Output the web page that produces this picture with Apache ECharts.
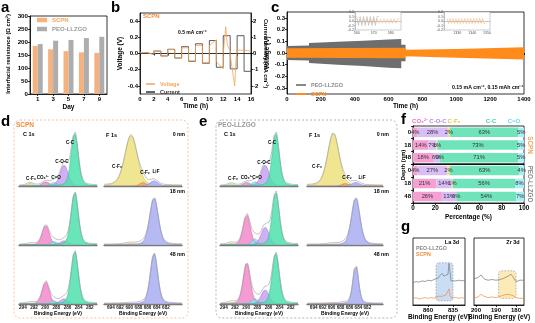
<!DOCTYPE html>
<html><head><meta charset="utf-8">
<script src="https://cdn.jsdelivr.net/npm/echarts@6/dist/echarts.min.js"></script>
<style>html,body{margin:0;padding:0;background:#fff}#c{width:535px;height:323px}</style>
</head><body><div id="c"></div>
<script>
// ================= DATA =================
const aDays = ['1','3','5','7','9'];
const aSCPN = [185,172,165,160,158];
const aPEO  = [192,205,208,215,220];
const aYTicks = [0,50,100,150,200,250,300];
const bHours = [0,1,2,3,4,5,6,7,8,9,10,11,12,13,14,15];
const bCurrent = [0.05,-0.05,0.15,-0.15,0.26,-0.28,0.42,-0.48,0.6,-0.6,0.8,-0.85,1.1,-0.95,1.1,-1.1];
const bVoltT = [0,1,1,2,2,3,3,4,4,5,5,6,6,7,7,8,8,9,9,10,10,11,11,12,12,12.35,12.6,13,13,13.65,13.85,14,14,15,15,16];
const bVoltV = [0.01,0.01,-0.01,-0.01,0.03,0.03,-0.03,-0.03,0.05,0.05,-0.05,-0.05,0.07,0.07,-0.09,-0.09,0.1,0.1,-0.11,-0.11,0.1,0.17,-0.1,-0.19,0.0,0.33,0.1,0.03,-0.02,-0.4,-0.05,0.0,0.04,0.04,0.03,0.03];
const bVTicks = [-0.4,-0.2,0,0.2,0.4];
const bITicks = [-2,-1,0,1,2];
const cPeoT  = [0,130,130,300,450,600,675,675,700];
const cPeoUp = [0.06,0.065,0.085,0.095,0.105,0.115,0.12,0.07,0.07];
const cPeoLo = [-0.06,-0.065,-0.085,-0.1,-0.11,-0.125,-0.13,-0.07,-0.07];
const cScpnT  = [0,700,700,1000,1400];
const cScpnUp = [0.04,0.045,0.028,0.035,0.05];
const cScpnLo = [-0.04,-0.045,-0.028,-0.04,-0.056];
const cYTicks = [-0.3,-0.2,-0.1,0,0.1,0.2,0.3];
const in1Start = 560, in1Gray = [0.1,-0.1,0.1,-0.1,0.1,-0.1,0.1,-0.1,0.1,-0.1,0.1,-0.1,0.1];
const in1Orange = [0.05,-0.05,0.05,-0.05,0.05,-0.05,0.05,-0.05,0.05,-0.05,0.05,-0.05,0.05,-0.05,0.05,-0.05,0.05,-0.05,0.05,-0.05,0.05,-0.05,0.05,-0.05,0.05];
const in1Ticks = [560,570,580];
const in2Start = 1323, in2Orange = [0.055,-0.055,0.055,-0.055,0.055,-0.055,0.055,-0.055,0.055,-0.055,0.055,-0.055,0.055,-0.055,0.055,-0.055,0.055,-0.055,0.055,-0.055,0.055,-0.055,0.055,-0.055,0.055,-0.055];
const in2Ticks = [1330,1340,1350];
const c1sLabels = ['C-F₃','CO₃²⁻','C=O','C-O-C','C-C'];
const c1sCenters = [292.7,289.9,288.4,286.6,284.7];
const c1sFwhm = [1.3,1.5,1.3,1.7,1.5];
const scpnC1sH = [[0.05,0.08,0.07,0.40,1.0],[0.02,0.37,0.07,0.08,1.0],[0.02,0.42,0.06,0.10,1.0]];
const peoC1sH  = [[0.04,0.07,0.08,0.40,1.0],[0.03,0.57,0.12,0.34,1.0],[0.03,0.77,0.10,0.27,0.96]];
const f1sLabels = ['C-F₃','C-F₂','LiF'];
const f1sCenters = [689.6,687.0,684.6];
const scpnF1sH = [[0.96,0.07,0.10],[0.03,0.03,0.9],[0.01,0.02,0.96]];
const scpnF1sW = [[3.2,1.5,2.0],[3.2,1.5,2.2],[3.2,1.5,1.9]];
const peoF1sH  = [[1.0,0.05,0.07],[0.02,0.03,0.9],[0.01,0.02,0.74]];
const peoF1sW  = [[3.0,1.5,2.0],[3.0,1.5,2.2],[3.0,1.5,1.5]];
const c1sTicks = [282,284,286,288,290,292,294];
const f1sTicks = [682,684,686,688,690,692,694];
const depthNames = ['0 nm','18 nm','48 nm'];
const fComps = ['CO₃²⁻','C-O-C','C-F₃','C-C','C=O'];
const fDepths = ['0','18','48'];
const fSCPN = [[4,28,2,63,5],[14,7,1,73,5],[18,6,0,71,5]];
const fPEO  = [[4,27,2,63,4],[21,14,1,56,8],[26,13,0,54,7]];
const gLaE    = [875,872,869,866,863,860,857,854,852,850,848,846,844,842,840,839,838,837,835,832,829,826,823];
const gLaPeo  = [0.33,0.35,0.34,0.36,0.35,0.37,0.36,0.38,0.37,0.40,0.44,0.47,0.43,0.41,0.46,0.62,0.50,0.36,0.38,0.36,0.37,0.36,0.37];
const gLaScpn = [0.10,0.11,0.09,0.10,0.11,0.10,0.11,0.10,0.12,0.13,0.14,0.13,0.14,0.15,0.16,0.24,0.14,0.11,0.10,0.11,0.10,0.11,0.10];
const gZrE    = [201,199,197.4,196,194,192,190,188,186,184,182.6,181.5,180,178,176];
const gZrPeo  = [0.39,0.41,0.45,0.39,0.37,0.38,0.37,0.38,0.40,0.43,0.46,0.42,0.35,0.37,0.37];
const gZrScpn = [0.10,0.12,0.16,0.13,0.11,0.12,0.11,0.13,0.15,0.16,0.15,0.14,0.11,0.10,0.10];
const gLaBox = [852,0.06,835,0.63];
const gZrBox = [188.7,0.1,180,0.51];
const gLaTicks = [860,835];
const gZrTicks = [200,190,180];

// ================= HELPERS =================
const F = "'Liberation Sans', Arial, sans-serif";
function isObj(o){return o && typeof o==='object' && !Array.isArray(o);}
function merge(a,b){const r=Object.assign({},a);for(const k in b){r[k]=(isObj(a[k])&&isObj(b[k]))?merge(a[k],b[k]):b[k];}return r;}
function ax(o){return merge({axisLine:{show:true,lineStyle:{color:'#000',width:0.8}},axisTick:{show:true,length:2,lineStyle:{color:'#000',width:0.8}},axisLabel:{fontSize:6,fontWeight:'bold',color:'#000',margin:2,fontFamily:F,hideOverlap:false},splitLine:{show:false},nameTextStyle:{fontSize:6.5,fontWeight:'bold',color:'#000',fontFamily:F}},o||{});}
const grids=[],xAxes=[],yAxes=[],series=[],graphics=[],legends=[];
function addGrid(g,x,y){grids.push(g);const gi=grids.length-1;xAxes.push(ax(Object.assign({gridIndex:gi},x)));yAxes.push(ax(Object.assign({gridIndex:gi},y)));return {g:gi,x:xAxes.length-1,y:yAxes.length-1};}
function T(x,y,text,o){o=o||{};return {type:'text',x:x,y:y,rotation:o.rot||0,silent:true,z:100,style:{text:text,fill:o.color||'#000',font:(o.weight||'bold')+' '+(o.size||6)+'px '+F,textAlign:o.align||'left',textVerticalAlign:o.va||'middle'}};}
const frame={show:true,borderColor:'#000',borderWidth:0.8,backgroundColor:'transparent'};
const plain=v=>String(v);

// (a)
const gA=addGrid(Object.assign({left:30,top:16,width:77,height:78},frame),
  {type:'category',data:aDays,axisTick:{alignWithLabel:true},name:'Day',nameLocation:'middle',nameGap:10},
  {type:'value',min:0,max:300,axisLabel:{customValues:aYTicks,formatter:plain,fontSize:6.2},axisTick:{customValues:aYTicks}});
series.push({type:'bar',name:'SCPN',xAxisIndex:gA.x,yAxisIndex:gA.y,data:aSCPN,barWidth:5,barGap:'0%',itemStyle:{color:'#F6B27E'}});
series.push({type:'bar',name:'PEO-LLZGO',xAxisIndex:gA.x,yAxisIndex:gA.y,data:aPEO,barWidth:5,barGap:'0%',itemStyle:{color:'#ADADAD'}});
legends.push({left:32,top:12,orient:'vertical',icon:'rect',itemWidth:10,itemHeight:4.5,itemGap:3,textStyle:{fontSize:6,fontWeight:'bold',fontFamily:F},
  data:[{name:'SCPN',textStyle:{color:'#F4A460'}},{name:'PEO-LLZGO',textStyle:{color:'#999'}}]});
graphics.push(T(8,54,'Interfacial resistance (Ω cm²)',{size:5.8,align:'center',rot:Math.PI/2}));

// (b)
const gB=addGrid(Object.assign({left:140,top:13,width:111,height:81},frame),
  {type:'value',min:0,max:16,interval:2,name:'Time (h)',nameLocation:'middle',nameGap:9},
  {type:'value',min:-0.5,max:0.5,axisLabel:{customValues:bVTicks,formatter:v=>v.toFixed(1)},axisTick:{customValues:bVTicks},name:'Voltage (V)',nameLocation:'middle',nameGap:13});
yAxes.push(ax({gridIndex:gB.g,type:'value',position:'right',min:-2.5,max:2.5,axisLabel:{customValues:bITicks},axisTick:{customValues:bITicks},name:'Current density (mA cm⁻²)',nameLocation:'middle',nameGap:7,nameRotate:-90,nameTextStyle:{fontSize:5.6}}));
const bYR=yAxes.length-1;
const curPts=[[0,0]];bHours.forEach((h,i)=>{curPts.push([h,bCurrent[i]]);curPts.push([h+1,bCurrent[i]]);});
series.push({type:'line',name:'Current',xAxisIndex:gB.x,yAxisIndex:bYR,data:curPts,showSymbol:false,symbol:'none',lineStyle:{color:'#333',width:0.8},itemStyle:{color:'#333'},z:2});
series.push({type:'line',name:'Voltage',xAxisIndex:gB.x,yAxisIndex:gB.y,data:bVoltT.map((t,i)=>[t,bVoltV[i]]),showSymbol:false,symbol:'none',lineStyle:{color:'#F5A35A',width:0.8},itemStyle:{color:'#F5A35A'},z:3});
legends.push({left:141,top:76,orient:'vertical',icon:'rect',itemWidth:9,itemHeight:1.5,itemGap:2,textStyle:{fontSize:5.5,fontWeight:'bold',fontFamily:F},
  data:[{name:'Voltage',textStyle:{color:'#F5A35A'}},{name:'Current',textStyle:{color:'#333'}}]});
graphics.push(T(143,16,'SCPN',{color:'#F28C3A',size:6}));
graphics.push(T(178,33,'0.5 mA cm⁻²',{size:5}));

// (c)
const gC=addGrid(Object.assign({left:287,top:12,width:237,height:82},frame),
  {type:'value',min:0,max:1400,interval:200,axisLabel:{formatter:plain},name:'Time (h)',nameLocation:'middle',nameGap:9},
  {type:'value',min:-0.35,max:0.35,axisLabel:{customValues:cYTicks,formatter:v=>v.toFixed(1)},axisTick:{customValues:cYTicks},name:'Voltage (V)',nameLocation:'middle',nameGap:13});
function band(name,Tt,U,L,color,z){return {type:'custom',name:name,xAxisIndex:gC.x,yAxisIndex:gC.y,data:[[Tt[0],U[0]]],z:z,itemStyle:{color:color},
  renderItem:(p,api)=>{const pts=[];for(let i=0;i<Tt.length;i++)pts.push(api.coord([Tt[i],U[i]]));for(let i=Tt.length-1;i>=0;i--)pts.push(api.coord([Tt[i],L[i]]));return {type:'polygon',shape:{points:pts},style:{fill:color}};}};}
series.push(band('PEO-LLZGO ',cPeoT,cPeoUp,cPeoLo,'#6E6E6E',2));
series.push(band('SCPN ',cScpnT,cScpnUp,cScpnLo,'#FF8C1A',3));
legends.push({left:291,top:77,orient:'vertical',icon:'rect',itemWidth:10,itemHeight:2,itemGap:3,textStyle:{fontSize:5.5,fontWeight:'bold',fontFamily:F},
  data:[{name:'PEO-LLZGO ',itemStyle:{color:'#888'},textStyle:{color:'#888'}},{name:'SCPN ',itemStyle:{color:'#FF8C1A'},textStyle:{color:'#FF8C1A'}}]});
graphics.push(T(452,88,'0.15 mA cm⁻², 0.15 mAh cm⁻²',{size:5.2}));
function inset(left,xmin,xmax,ticks){
  const smallAx={axisLine:{lineStyle:{color:'#999',width:0.5}},axisTick:{length:1,lineStyle:{color:'#999',width:0.5}},axisLabel:{fontSize:3.6,fontWeight:'normal',color:'#555',margin:1},z:11};
  return addGrid({left:left,top:12,width:46,height:18,show:true,backgroundColor:'#fff',borderColor:'#999',borderWidth:0.5,z:10},
    merge(smallAx,{type:'value',min:xmin,max:xmax,axisLabel:{customValues:ticks,formatter:plain},axisTick:{customValues:ticks}}),
    merge(smallAx,{type:'value',min:-0.2,max:0.2,interval:0.1,axisLabel:{formatter:v=>v.toFixed(1)}}));
}
function sq(start,vals){const pts=[];vals.forEach((v,i)=>{pts.push([start+i,v]);pts.push([start+i+1,v]);});return pts;}
const gI1=inset(355,559,586,in1Ticks);
series.push({type:'line',xAxisIndex:gI1.x,yAxisIndex:gI1.y,data:sq(in1Start,in1Orange),showSymbol:false,symbol:'none',lineStyle:{color:'#F7B27A',width:0.5},z:12});
series.push({type:'line',xAxisIndex:gI1.x,yAxisIndex:gI1.y,data:sq(in1Start,in1Gray),showSymbol:false,symbol:'none',lineStyle:{color:'#AAAAAA',width:0.5},z:12});
const gI2=inset(444,1321,1352,in2Ticks);
series.push({type:'line',xAxisIndex:gI2.x,yAxisIndex:gI2.y,data:sq(in2Start,in2Orange),showSymbol:false,symbol:'none',lineStyle:{color:'#F7A860',width:0.5},z:12});

// (d)/(e)
const cC=['#EBDD7E','#F28ACB','#86E6F2','#C8A2F2','#4FE0AE'];
const cCe=['#C9B94E','#D4609F','#4CBFD0','#9E76D0','#2DB886'];
const fC=['#EDE07E','#F5A35E','#A8ADF2'];
const fCe=['#C9BA4A','#D07A35','#7C82D0'];
const rowTops=[128,187,246], rowH=58;
function pv(x,c,h,w){const d=(x-c)/w;return h*(0.75*Math.exp(-4*Math.LN2*d*d)+0.25/(1+4*d*d));}
function xpsCol(left,width,xmin,xmax,ticks,centers,heights,widths,colors,edges){
  rowTops.forEach((top,r)=>{
    const last=r===2;
    const G=addGrid({left:left,top:top,width:width,height:rowH},
      {type:'value',inverse:true,min:xmin,max:xmax,axisLine:{lineStyle:{color:'#777',width:1.3}},
        axisTick:{show:last,customValues:ticks,length:1.5,lineStyle:{color:'#777'}},
        axisLabel:{show:last,customValues:ticks,fontSize:4.6,margin:1.5,color:'#222'},
        name:last?'Binding Energy (eV)':'',nameLocation:'middle',nameGap:7,nameTextStyle:{fontSize:5}},
      {type:'value',show:false,min:0,max:1.1});
    const n=Math.round((xmax-xmin)/0.1);const env=[];
    for(let k=0;k<=n;k++)env.push([xmin+k*0.1,0.015]);
    centers.forEach((c,j)=>{
      const h=heights[r][j], w=Array.isArray(widths[0])?widths[r][j]:widths[j];
      const d=[];for(let k=0;k<=n;k++){const x=xmin+k*0.1;const y=pv(x,c,h,w);d.push([x,y]);env[k][1]+=y;}
      series.push({type:'line',xAxisIndex:G.x,yAxisIndex:G.y,data:d,showSymbol:false,symbol:'none',silent:true,
        lineStyle:{width:0.5,color:edges[j]},areaStyle:{color:colors[j],opacity:0.85},z:2+(j===centers.length-1?1:0)});
    });
    series.push({type:'line',xAxisIndex:G.x,yAxisIndex:G.y,data:env,showSymbol:false,symbol:'none',silent:true,lineStyle:{width:0.6,color:'#9A9A9A'},z:4});
  });
}
xpsCol(19,78,280.7,294.7,c1sTicks,c1sCenters,scpnC1sH,c1sFwhm,cC,cCe);
xpsCol(104,78,678.5,695.5,f1sTicks,f1sCenters,scpnF1sH,scpnF1sW,fC,fCe);
xpsCol(220,78,280.7,294.7,c1sTicks,c1sCenters,peoC1sH,c1sFwhm,cC,cCe);
xpsCol(307,76,678.5,695.5,f1sTicks,f1sCenters,peoF1sH,peoF1sW,fC,fCe);
graphics.push({type:'rect',silent:true,shape:{x:14,y:120,width:174,height:198,r:6},style:{fill:'none',stroke:'#F4B183',lineWidth:0.8,lineDash:[2,2]}});
graphics.push({type:'rect',silent:true,shape:{x:216,y:120,width:181,height:198,r:6},style:{fill:'none',stroke:'#A0A0A0',lineWidth:0.8,lineDash:[2,2]}});
graphics.push(T(16,125,'SCPN',{color:'#F28C3A',size:6.5}));
graphics.push(T(218,125,'PEO-LLZGO',{color:'#999',size:6.5}));
graphics.push(T(23,134,'C 1s',{size:5.5}));
graphics.push(T(224,134,'C 1s',{size:5.5}));
graphics.push(T(106,135,'F 1s',{size:5.5}));
graphics.push(T(309,135,'F 1s',{size:5.5}));
const dLab=[[31,179],[43,178],[56,178],[62,162],[70,143]];
const eLab=[[233,179],[247,178],[257,178],[264,163],[272,143]];
c1sLabels.forEach((s,j)=>{graphics.push(T(dLab[j][0],dLab[j][1],s,{size:4.6,align:'center'}));graphics.push(T(eLab[j][0],eLab[j][1],s,{size:4.6,align:'center'}));});
const dFLab=[[117,167],[145,173],[156,172]];
const eFLab=[[317,167],[347,178],[362,178]];
f1sLabels.forEach((s,j)=>{graphics.push(T(dFLab[j][0],dFLab[j][1],s,{size:4.6,align:'center'}));graphics.push(T(eFLab[j][0],eFLab[j][1],s,{size:4.6,align:'center'}));});
const depY=[135,192,255];
depthNames.forEach((s,r)=>{graphics.push(T(185,depY[r],s,{size:5.3,align:'right'}));graphics.push(T(389,depY[r],s,{size:5.3,align:'right'}));});

// (f)
const fCol=['#F59FD3','#D9BDF5','#F2E38A','#6FE3BA','#A7EEF5'];
const fTxt=['#F06EB8','#B48AE8','#E2C640','#3CD8A0','#5EDDF0'];
function fGrid(top,height,vals,showX){
  const G=addGrid(Object.assign({left:413,top:top,width:111,height:height},frame),
    {type:'value',min:0,max:100,interval:20,axisLabel:{show:showX,fontSize:6.3},axisTick:{show:showX},
      name:showX?'Percentage (%)':'',nameLocation:'middle',nameGap:11},
    {type:'category',data:fDepths,inverse:true,axisLabel:{fontSize:6},axisTick:{length:2}});
  fComps.forEach((c,j)=>{
    series.push({type:'bar',xAxisIndex:G.x,yAxisIndex:G.y,stack:'s'+G.g,barWidth:9.5,
      data:vals.map(row=>{const s=row.reduce((a,b)=>a+b,0);return {value:row[j]/s*100,raw:row[j]};}),
      itemStyle:{color:fCol[j]},
      label:{show:true,position:'inside',formatter:p=>p.data.raw+'%',fontSize:5.8,color:'#333',fontFamily:F}});
  });
}
fGrid(126,38,fSCPN,false);
fGrid(164,39,fPEO,true);
const fLX=[420,438,454,491,514];
fComps.forEach((c,j)=>graphics.push(T(fLX[j],121,c,{color:fTxt[j],size:6,align:'center'})));
graphics.push(T(403,165,'Depth (nm)',{size:5.8,align:'center',rot:Math.PI/2}));
graphics.push(T(530,145,'SCPN',{size:6.3,align:'center',color:'#F4A460',rot:-Math.PI/2}));
graphics.push(T(530,184,'PEO-LLZGO',{size:6.3,align:'center',color:'#888',rot:-Math.PI/2}));

// (g)
function boxSeries(G,b,fill){return {type:'custom',xAxisIndex:G.x,yAxisIndex:G.y,data:[[b[0],b[1]]],z:1,silent:true,
  renderItem:(p,api)=>{const p1=api.coord([b[0],b[1]]),p2=api.coord([b[2],b[3]]);return {type:'rect',shape:{x:Math.min(p1[0],p2[0]),y:Math.min(p1[1],p2[1]),width:Math.abs(p2[0]-p1[0]),height:Math.abs(p2[1]-p1[1]),r:3},style:{fill:fill,stroke:'#888',lineWidth:0.6,lineDash:[1.5,1.5]}};}};}
function gGrid(left,width,xmin,xmax,ticks,E,peo,scpn,b,fill){
  const G=addGrid(Object.assign({left:left,top:238,width:width,height:67},frame),
    {type:'value',inverse:true,min:xmin,max:xmax,axisLabel:{customValues:ticks,fontSize:6},axisTick:{customValues:ticks},name:'Binding Energy (eV)',nameLocation:'middle',nameGap:9},
    {type:'value',show:false,min:0,max:1});
  series.push(boxSeries(G,b,fill));
  series.push({type:'line',xAxisIndex:G.x,yAxisIndex:G.y,data:E.map((e,i)=>[e,peo[i]]),showSymbol:false,symbol:'none',lineStyle:{color:'#777',width:0.7},z:3});
  series.push({type:'line',xAxisIndex:G.x,yAxisIndex:G.y,data:E.map((e,i)=>[e,scpn[i]]),showSymbol:false,symbol:'none',lineStyle:{color:'#F08A3C',width:0.7},z:3});
}
gGrid(413,52,823,875,gLaTicks,gLaE,gLaPeo,gLaScpn,gLaBox,'rgba(165,200,238,0.6)');
gGrid(474,50,176,201,gZrTicks,gZrE,gZrPeo,gZrScpn,gZrBox,'rgba(250,222,145,0.65)');
graphics.push(T(452,242,'La 3d',{size:5.5,align:'center'}));
graphics.push(T(513,242,'Zr 3d',{size:5.5,align:'center'}));
graphics.push(T(416,248.5,'PEO-LLZGO',{size:5.3,color:'#888'}));
graphics.push(T(416,254.5,'SCPN',{size:5.3,color:'#F08A3C'}));
[['a',1,0],['b',111,0],['c',271,0],['d',1,114],['e',199,114],['f',401,112],['g',401,219]].forEach(q=>graphics.push(T(q[1],q[2],q[0],{size:15,va:'top'})));

const chart=echarts.init(document.getElementById('c'),null,{renderer:'canvas'});
chart.setOption({animation:false,backgroundColor:'#fff',textStyle:{fontFamily:F},grid:grids,xAxis:xAxes,yAxis:yAxes,series:series,legend:legends,graphic:{elements:graphics}});
</script></body></html>
